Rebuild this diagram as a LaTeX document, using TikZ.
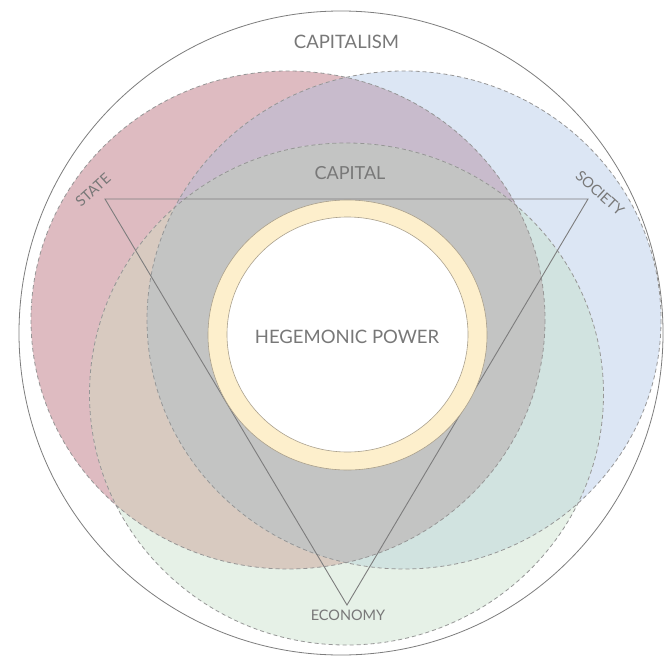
\documentclass[tikz,border=0pt]{standalone}
\usepackage{fontspec}
\setmainfont{Lato}
\definecolor{cred}{RGB}{222,187,193}
\definecolor{cblue}{RGB}{220,230,244}
\definecolor{cgreen}{RGB}{230,241,231}
\definecolor{cpurple}{RGB}{200,187,204}
\definecolor{cbrown}{RGB}{216,202,192}
\definecolor{cteal}{RGB}{209,227,224}
\definecolor{cgray}{RGB}{195,196,195}
\definecolor{cring}{RGB}{253,239,204}
\definecolor{ringline}{RGB}{170,160,140}
\definecolor{dashcol}{RGB}{150,150,150}
\definecolor{linecol}{RGB}{125,125,125}
\definecolor{txtcol}{RGB}{120,120,120}
\begin{document}
\begin{tikzpicture}[x=1pt,y=-1pt,
  dashline/.style={draw=dashcol,line width=0.8pt,dash pattern=on 4pt off 3pt},
  lbl/.style={text=txtcol,inner sep=0pt}]
\useasboundingbox (0,0) rectangle (668,655);
\fill[white] (0,0) rectangle (668,655);
% outer circle
\draw[linecol,line width=0.8pt] (341,333) ellipse [x radius=322, y radius=322];
% single circles
\fill[cred] (288,320) ellipse [x radius=257, y radius=249];
\fill[cblue] (404,320) ellipse [x radius=257, y radius=249];
\fill[cgreen] (346.5,394) ellipse [x radius=257, y radius=251];
% pairwise intersections
\begin{scope}
  \clip (288,320) ellipse [x radius=257, y radius=249];
  \fill[cpurple] (404,320) ellipse [x radius=257, y radius=249];
  \fill[cbrown] (346.5,394) ellipse [x radius=257, y radius=251];
\end{scope}
\begin{scope}
  \clip (404,320) ellipse [x radius=257, y radius=249];
  \fill[cteal] (346.5,394) ellipse [x radius=257, y radius=251];
\end{scope}
% triple intersection
\begin{scope}
  \clip (288,320) ellipse [x radius=257, y radius=249];
  \clip (404,320) ellipse [x radius=257, y radius=249];
  \fill[cgray] (346.5,394) ellipse [x radius=257, y radius=251];
\end{scope}
% dashed outlines
\draw[dashline] (288,320) ellipse [x radius=257, y radius=249];
\draw[dashline] (404,320) ellipse [x radius=257, y radius=249];
\draw[dashline] (346.5,394) ellipse [x radius=257, y radius=251];
% triangle
\coordinate (vstate) at (105,199);
\coordinate (vsociety) at (588,199);
\coordinate (veconomy) at (347,605);
\draw[linecol,line width=0.9pt,line join=miter] (vstate) -- (vsociety) -- (veconomy) -- cycle;
% hegemonic ring
\fill[cring] (347.5,335) ellipse [x radius=139.5, y radius=135];
\draw[ringline,line width=0.6pt] (347.5,335) ellipse [x radius=139.5, y radius=135];
\fill[white] (347.5,334.5) ellipse [x radius=120.5, y radius=117.5];
\draw[ringline,line width=0.6pt] (347.5,334.5) ellipse [x radius=120.5, y radius=117.5];
% labels
\node[lbl,font=\fontsize{18.5}{20}\selectfont] (capitalism) at (346.5,41.5) {CAPITALISM};
\node[lbl,font=\fontsize{18}{20}\selectfont] (capital) at (350,173) {CAPITAL};
\node[lbl,font=\fontsize{18.5}{20}\selectfont] (hegemonic) at (347,337) {HEGEMONIC POWER};
\node[lbl,font=\fontsize{14.5}{16}\selectfont] (economy) at (348,615) {ECONOMY};
\node[lbl,font=\fontsize{14.5}{16}\selectfont,rotate=42] (state) at (93,190) {STATE};
\node[lbl,font=\fontsize{14.5}{16}\selectfont,rotate=-42] (society) at (600,193) {SOCIETY};
\end{tikzpicture}
\end{document}
